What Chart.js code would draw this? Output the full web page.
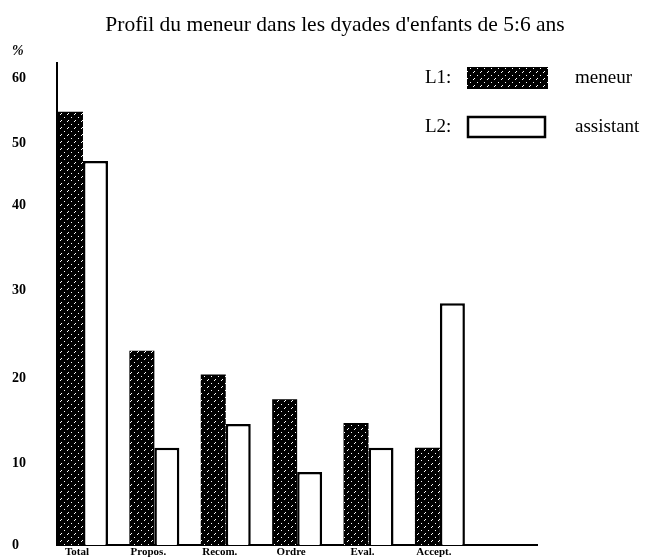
<!DOCTYPE html>
<html>
<head>
<meta charset="utf-8">
<script src="https://cdn.jsdelivr.net/npm/chart.js@4/dist/chart.umd.min.js"></script>
<style>
html,body{margin:0;padding:0;background:#fff;}
#wrap{width:657px;height:560px;position:relative;}
</style>
</head>
<body>
<div id="wrap"><canvas id="c" width="657" height="560"></canvas></div>
<script>
// ---- data ----
const TITLE = "Profil du meneur dans les dyades d'enfants de 5:6 ans";
const categories = ["Total", "Propos.", "Recom.", "Ordre", "Eval.", "Accept."];
const meneur = [54.8, 23.1, 20.4, 17.5, 14.7, 11.8];
const assistant = [47.1, 11.8, 14.6, 8.9, 11.8, 28.5];
const yTickValues = [0, 10, 20, 30, 40, 50, 60];
const seriesNames = ["meneur", "assistant"];
const seriesCodes = ["L1:", "L2:"];

// ---- piecewise scale (the printed axis is not uniform) ----
class KnotScale extends Chart.LinearScale {
  _frac(v) {
    const k = this.options.knots;
    if (v <= k[0][0]) return k[0][1];
    for (let i = 1; i < k.length; i++) {
      if (v <= k[i][0]) {
        const t = (v - k[i-1][0]) / (k[i][0] - k[i-1][0]);
        return k[i-1][1] + t * (k[i][1] - k[i-1][1]);
      }
    }
    return k[k.length-1][1];
  }
  getPixelForValue(v) {
    return this.bottom - this._frac(v) * (this.bottom - this.top);
  }
  getValueForPixel(p) {
    const f = (this.bottom - p) / (this.bottom - this.top);
    const k = this.options.knots;
    for (let i = 1; i < k.length; i++) {
      if (f <= k[i][1]) {
        const t = (f - k[i-1][1]) / (k[i][1] - k[i-1][1]);
        return k[i-1][0] + t * (k[i][0] - k[i-1][0]);
      }
    }
    return k[k.length-1][0];
  }
}
KnotScale.id = 'knot';
KnotScale.defaults = Chart.LinearScale.defaults;
Chart.register(KnotScale);

// ---- hatch pattern ----
function hatch() {
  const c = document.createElement('canvas');
  c.width = 7; c.height = 7;
  const g = c.getContext('2d');
  g.fillStyle = '#000'; g.fillRect(0, 0, 7, 7);
  g.fillStyle = '#fff';
  g.fillRect(5, 1, 1, 1);
  g.fillRect(4, 2, 1, 1);
  g.fillRect(1, 5, 1, 1);
  return g.createPattern(c, 'repeat');
}
const HATCH = hatch();

const decor = {
  id: 'decor',
  beforeDraw(chart) {
    const ctx = chart.ctx;
    ctx.save();
    ctx.fillStyle = '#fff';
    ctx.fillRect(0, 0, chart.width, chart.height);
    ctx.restore();
  },
  afterDraw(chart) {
    const ctx = chart.ctx;
    ctx.save();
    ctx.fillStyle = '#000';
    ctx.textBaseline = 'middle';
    ctx.textAlign = 'center';
    ctx.font = '21.5px "Liberation Serif", serif';
    ctx.fillText(TITLE, 335, 25);
    ctx.textAlign = 'left';
    ctx.font = 'bold italic 14px "Liberation Serif", serif';
    ctx.fillText('%', 12, 51);
    // legend
    const rows = [78, 127];
    ctx.font = '19px "Liberation Serif", serif';
    chart.data.datasets.forEach((ds, i) => {
      const y = rows[i];
      ctx.fillStyle = '#000';
      ctx.fillText(seriesCodes[i], 425, y);
      ctx.fillText(ds.label, 575, y);
      if (i === 0) {
        ctx.fillStyle = HATCH;
        ctx.fillRect(467, y - 11, 81, 22);
      } else {
        ctx.fillStyle = '#fff';
        ctx.fillRect(467, y - 11, 79, 22);
        ctx.strokeStyle = '#000';
        ctx.lineWidth = 2.5;
        ctx.strokeRect(468, y - 10, 77, 20);
      }
    });
    ctx.restore();
  }
};

new Chart(document.getElementById('c'), {
  type: 'bar',
  data: {
    datasets: [
      {
        label: seriesNames[0],
        data: meneur.map((v, i) => ({x: i, y: v})),
        backgroundColor: HATCH,
        borderWidth: 0
      },
      {
        label: seriesNames[1],
        data: assistant.map((v, i) => ({x: i, y: v})),
        backgroundColor: '#fff',
        borderColor: '#000',
        borderWidth: 2.5,
        borderSkipped: 'bottom'
      }
    ]
  },
  options: {
    responsive: false,
    animation: false,
    events: [],
    layout: { padding: { left: 12, right: 120, top: 63, bottom: 0 } },
    datasets: { bar: { barPercentage: 1.0, categoryPercentage: 0.7 } },
    plugins: { legend: { display: false }, title: { display: false }, tooltip: { enabled: false } },
    scales: {
      x: {
        type: 'linear',
        offset: false,
        min: -0.364,
        max: 6.36,
        grid: { display: false, drawTicks: false, offset: false },
        border: { display: true, color: '#000', width: 2 },
        afterBuildTicks(s) { s.ticks = categories.map((_, i) => ({value: i})); },
        afterFit(s) { s.height = 15; },
        ticks: {
          padding: 1,
          labelOffset: -6,
          maxRotation: 0,
          autoSkip: false,
          color: '#000',
          font: { family: '"Liberation Serif", serif', size: 11, weight: 'bold' },
          callback: (v) => categories[v] ?? ''
        }
      },
      y: {
        type: 'knot',
        min: 0,
        max: 62.3,
        knots: [[0, 0], [10, 0.170], [20, 0.3465], [30, 0.529], [40, 0.705], [50, 0.834], [60, 0.969], [62.3, 1]],
        grid: { display: false, drawTicks: false },
        border: { display: true, color: '#000', width: 2 },
        afterBuildTicks(s) { s.ticks = yTickValues.map(v => ({value: v})); },
        afterFit(s) { s.width = 45; },
        ticks: {
          crossAlign: 'far',
          padding: 0,
          color: '#000',
          font: { family: '"Liberation Serif", serif', size: 14, weight: 'bold' },
          callback: (v) => String(v)
        }
      }
    }
  },
  plugins: [decor]
});
</script>
</body>
</html>
